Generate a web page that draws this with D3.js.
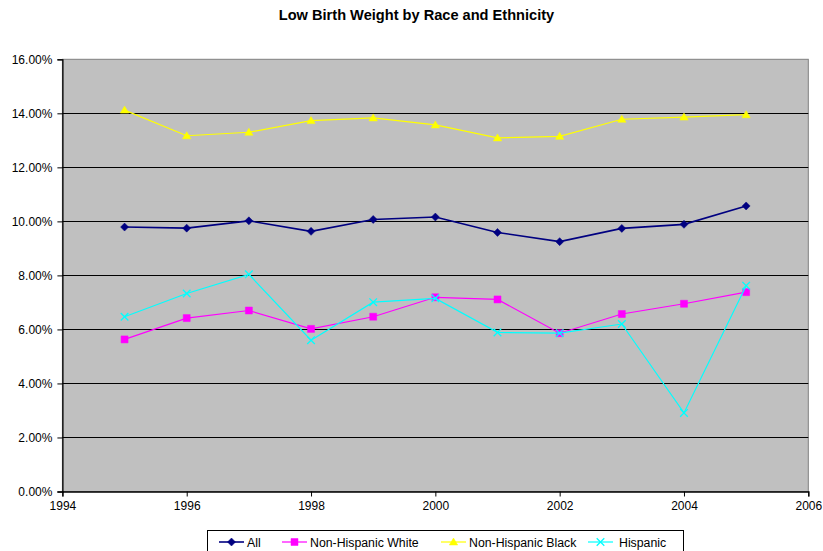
<!DOCTYPE html>
<html>
<head>
<meta charset="utf-8">
<script src="https://cdn.jsdelivr.net/npm/d3@7"></script>
<style>
  html, body { margin: 0; padding: 0; background: #fff; }
  svg { display: block; font-family: Arial, "Liberation Sans", sans-serif; }
</style>
</head>
<body>
<svg id="chart" width="823" height="551"></svg>
<script>
// Low birth weight percentages by year and group
const years = [1995, 1996, 1997, 1998, 1999, 2000, 2001, 2002, 2003, 2004, 2005];
const allValues      = [9.79, 9.75, 10.02, 9.63, 10.07, 10.16, 9.59, 9.25, 9.74, 9.89, 10.57];
const whiteValues    = [5.63, 6.42, 6.70, 6.02, 6.47, 7.19, 7.11, 5.86, 6.57, 6.95, 7.38];
const blackValues    = [14.12, 13.17, 13.30, 13.73, 13.83, 13.57, 13.09, 13.15, 13.78, 13.86, 13.95];
const hispanicValues = [6.47, 7.33, 8.04, 5.60, 7.01, 7.15, 5.89, 5.86, 6.20, 2.91, 7.62];

const seriesNames = ["All", "Non-Hispanic White", "Non-Hispanic Black", "Hispanic"];
const xTicks = [1994, 1996, 1998, 2000, 2002, 2004, 2006];
const yTicks = [0, 2, 4, 6, 8, 10, 12, 14, 16];

const series = [
  { name: seriesNames[0], values: allValues,      color: "#000080", marker: "diamond",  width: 1.6 },
  { name: seriesNames[1], values: whiteValues,    color: "#FF00FF", marker: "square",   width: 1.2 },
  { name: seriesNames[2], values: blackValues,    color: "#FFFF00", marker: "triangle", width: 1.2 },
  { name: seriesNames[3], values: hispanicValues, color: "#00FFFF", marker: "cross",    width: 1.2 }
];

const svg = d3.select("#chart");
const plot = { left: 62.4, top: 59.3, right: 808.3, bottom: 491.5 };

const x = d3.scaleLinear().domain([1994, 2006]).range([plot.left, plot.right]);
const y = d3.scaleLinear().domain([0, 16]).range([plot.bottom, plot.top]);

// Title
svg.append("text")
  .attr("x", 416.5).attr("y", 19.5)
  .attr("text-anchor", "middle")
  .attr("font-size", 14.6).attr("font-weight", "bold")
  .text("Low Birth Weight by Race and Ethnicity");

// Plot background
svg.append("rect")
  .attr("x", plot.left).attr("y", plot.top)
  .attr("width", plot.right - plot.left).attr("height", plot.bottom - plot.top)
  .attr("fill", "#C0C0C0")
  .attr("stroke", "#808080").attr("stroke-width", 1);

// Horizontal gridlines
svg.append("g")
  .selectAll("line")
  .data(yTicks.filter(d => d > 0 && d < 16))
  .join("line")
  .attr("x1", plot.left).attr("x2", plot.right)
  .attr("y1", d => Math.round(y(d)) + 0.5).attr("y2", d => Math.round(y(d)) + 0.5)
  .attr("stroke", "#000").attr("stroke-width", 1);

// Y axis
const yAxis = svg.append("g")
  .attr("transform", `translate(${plot.left},0)`)
  .call(d3.axisLeft(y).tickValues(yTicks).tickSize(5).tickPadding(5)
    .tickFormat(d => d.toFixed(2) + "%"));
yAxis.select(".domain").attr("stroke", "#000").attr("stroke-width", 1.3);
yAxis.selectAll(".tick line").attr("stroke", "#000");
yAxis.selectAll("text").attr("font-size", 12).attr("fill", "#000")
  .attr("font-family", "Arial, 'Liberation Sans', sans-serif");

// X axis
const xAxis = svg.append("g")
  .attr("transform", `translate(0,${plot.bottom})`)
  .call(d3.axisBottom(x).tickValues(xTicks).tickSize(5).tickPadding(5)
    .tickFormat(d3.format("d")));
xAxis.select(".domain").attr("stroke", "#000").attr("stroke-width", 1.3);
xAxis.selectAll(".tick line").attr("stroke", "#000");
xAxis.selectAll("text").attr("font-size", 12).attr("fill", "#000")
  .attr("font-family", "Arial, 'Liberation Sans', sans-serif");

// Marker shapes
function markerPath(type) {
  switch (type) {
    case "diamond":  return "M0,-4L4,0L0,4L-4,0Z";
    case "square":   return "M-3.5,-3.5H3.5V3.5H-3.5Z";
    case "triangle": return "M0,-4L4.2,3L-4.2,3Z";
    default:         return "M-3.8,-3.8L3.8,3.8M3.8,-3.8L-3.8,3.8";
  }
}
function drawMarker(g, s, cx, cy) {
  const p = g.append("path")
    .attr("d", markerPath(s.marker))
    .attr("transform", `translate(${cx},${cy})`);
  if (s.marker === "cross") {
    p.attr("fill", "none").attr("stroke", s.color).attr("stroke-width", 1.3);
  } else {
    p.attr("fill", s.color).attr("stroke", s.color).attr("stroke-width", 0.5);
  }
}

const line = d3.line().x(d => x(d[0])).y(d => y(d[1]));

series.forEach(s => {
  const pts = years.map((yr, i) => [yr, s.values[i]]);
  const g = svg.append("g");
  g.append("path")
    .datum(pts)
    .attr("d", line)
    .attr("fill", "none")
    .attr("stroke", s.color)
    .attr("stroke-width", s.width);
  pts.forEach(p => drawMarker(g, s, x(p[0]), y(p[1])));
});

// Legend
const legend = svg.append("g");
legend.append("rect")
  .attr("x", 207.5).attr("y", 530.5)
  .attr("width", 476).attr("height", 30)
  .attr("fill", "#fff").attr("stroke", "#000").attr("stroke-width", 1);

const legendItems = [
  { lineX: 219, textX: 247 },
  { lineX: 282, textX: 310 },
  { lineX: 441, textX: 469 },
  { lineX: 588, textX: 619 }
];
series.forEach((s, i) => {
  const it = legendItems[i];
  const ly = 542;
  legend.append("line")
    .attr("x1", it.lineX).attr("x2", it.lineX + 25)
    .attr("y1", ly).attr("y2", ly)
    .attr("stroke", s.color).attr("stroke-width", s.width);
  drawMarker(legend, s, it.lineX + 12.5, ly);
  legend.append("text")
    .attr("x", it.textX).attr("y", ly + 4.5)
    .attr("font-size", 12.3)
    .text(s.name);
});
</script>
</body>
</html>
